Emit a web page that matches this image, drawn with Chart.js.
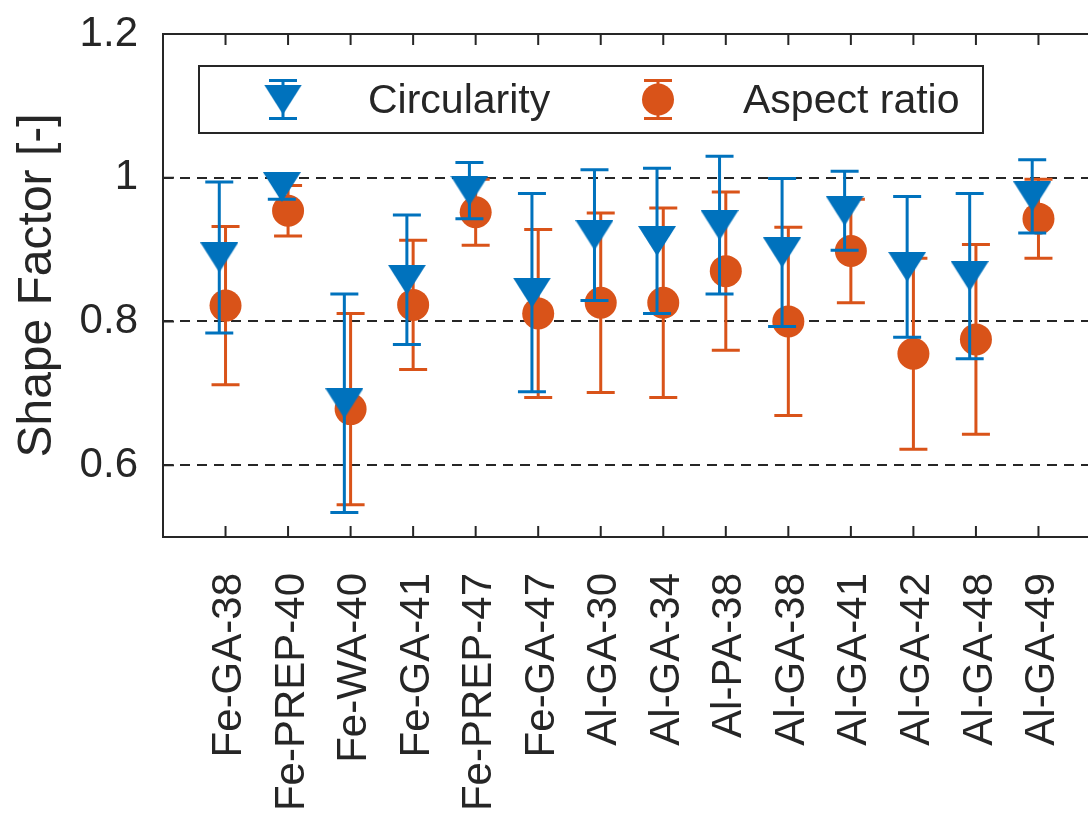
<!DOCTYPE html>
<html>
<head>
<meta charset="utf-8">
<title>Shape Factor</title>
<script src="https://cdn.jsdelivr.net/npm/chart.js@4"></script>
<style>
  html, body { margin: 0; padding: 0; overflow: hidden; background: #fff; }
</style>
</head>
<body>
<canvas id="shapeChart" width="1121" height="816"></canvas>
<script>
// sample names along the x axis
const categories = ['Fe-GA-38', 'Fe-PREP-40', 'Fe-WA-40', 'Fe-GA-41', 'Fe-PREP-47', 'Fe-GA-47',
  'Al-GA-30', 'Al-GA-34', 'Al-PA-38', 'Al-GA-38', 'Al-GA-41', 'Al-GA-42', 'Al-GA-48', 'Al-GA-49'];

// mean values and +/- error
const circularity    = [0.889, 0.987, 0.686, 0.858, 0.982, 0.840, 0.920, 0.912, 0.934, 0.896, 0.954, 0.876, 0.863, 0.974];
const circularityErr = [0.105, 0.017, 0.152, 0.090, 0.039, 0.138, 0.091, 0.101, 0.096, 0.103, 0.055, 0.098, 0.115, 0.051];
const aspectRatio    = [0.822, 0.954, 0.678, 0.823, 0.952, 0.811, 0.826, 0.826, 0.870, 0.800, 0.898, 0.755, 0.775, 0.943];
const aspectErr      = [0.110, 0.035, 0.133, 0.090, 0.046, 0.117, 0.125, 0.132, 0.110, 0.131, 0.072, 0.133, 0.132, 0.055];

const yTicks = [0.6, 0.8, 1, 1.2];

const BLUE = '#0072BD';
const ORANGE = '#D95319';
const INK = '#262626';
const FONT = '"Liberation Sans", Arial, Helvetica, sans-serif';

// MATLAB-ish downward triangle marker
function makeTriangle(w, h, color) {
  const c = document.createElement('canvas');
  c.width = w; c.height = h;
  const g = c.getContext('2d');
  g.fillStyle = color;
  g.beginPath();
  g.moveTo(0, 0); g.lineTo(w, 0); g.lineTo(w / 2, h);
  g.closePath(); g.fill();
  return c;
}
const triangle = makeTriangle(38, 30, BLUE);

const CAP = 14;

function drawErrorBar(ctx, px, top, bot, color) {
  ctx.strokeStyle = color;
  ctx.lineWidth = 3;
  ctx.beginPath();
  ctx.moveTo(px, top); ctx.lineTo(px, bot);
  ctx.moveTo(px - CAP, top); ctx.lineTo(px + CAP, top);
  ctx.moveTo(px - CAP, bot); ctx.lineTo(px + CAP, bot);
  ctx.stroke();
}

// error bars go under each dataset's own markers
const errorBars = {
  id: 'errorBars',
  beforeDatasetDraw(chart, args) {
    const ds = chart.data.datasets[args.index];
    const { x, y } = chart.scales;
    const ctx = chart.ctx;
    ctx.save();
    ds.data.forEach((p, i) => {
      const px = x.getPixelForValue(p.x);
      drawErrorBar(ctx, px, y.getPixelForValue(p.y + ds.errors[i]), y.getPixelForValue(p.y - ds.errors[i]), ds.borderColor);
    });
    ctx.restore();
  }
};

// axes box, inward ticks and the boxed legend
const frame = {
  id: 'frame',
  afterDraw(chart) {
    const { ctx, chartArea: a, scales: { x, y } } = chart;
    ctx.save();
    ctx.strokeStyle = INK;
    ctx.lineWidth = 2;
    ctx.strokeRect(a.left, a.top, a.right - a.left, a.bottom - a.top);
    ctx.beginPath();
    x.ticks.forEach(t => {
      const px = x.getPixelForValue(t.value);
      ctx.moveTo(px, a.bottom); ctx.lineTo(px, a.bottom - 11);
      ctx.moveTo(px, a.top); ctx.lineTo(px, a.top + 11);
    });
    y.ticks.forEach(t => {
      const py = y.getPixelForValue(t.value);
      ctx.moveTo(a.left, py); ctx.lineTo(a.left + 11, py);
      ctx.moveTo(a.right, py); ctx.lineTo(a.right - 11, py);
    });
    ctx.stroke();

    // legend
    const lx = a.left + 36, ly = a.top + 32, lw = 784, lh = 67;
    ctx.fillStyle = '#fff';
    ctx.fillRect(lx, ly, lw, lh);
    ctx.lineWidth = 2;
    ctx.strokeRect(lx, ly, lw, lh);
    const cy = ly + lh / 2;
    const d = chart.data.datasets;

    let mx = lx + 84;
    drawErrorBar(ctx, mx, cy - 19, cy + 19, BLUE);
    ctx.drawImage(triangle, mx - triangle.width / 2, cy - triangle.height / 2);
    mx = lx + 459;
    drawErrorBar(ctx, mx, cy - 19, cy + 19, ORANGE);
    ctx.fillStyle = ORANGE;
    ctx.beginPath(); ctx.arc(mx, cy, 16, 0, Math.PI * 2); ctx.fill();

    ctx.fillStyle = INK;
    ctx.font = '41px ' + FONT;
    ctx.textAlign = 'left';
    ctx.textBaseline = 'middle';
    ctx.fillText(d[0].label, lx + 169, cy + 2);
    ctx.fillText(d[1].label, lx + 544, cy + 2);
    ctx.restore();
  }
};

const X_SHIFT = -0.1;

new Chart(document.getElementById('shapeChart'), {
  type: 'scatter',
  data: {
    datasets: [
      {
        label: 'Circularity',
        data: circularity.map((v, i) => ({ x: i + X_SHIFT, y: v })),
        errors: circularityErr,
        borderColor: BLUE,
        backgroundColor: BLUE,
        pointStyle: triangle,
        pointRadius: 19,
        showLine: false
      },
      {
        label: 'Aspect ratio',
        data: aspectRatio.map((v, i) => ({ x: i, y: v })),
        errors: aspectErr,
        borderColor: ORANGE,
        backgroundColor: ORANGE,
        pointStyle: 'circle',
        pointRadius: 16,
        pointBorderWidth: 0,
        showLine: false
      }
    ]
  },
  options: {
    responsive: false,
    devicePixelRatio: 1,
    animation: false,
    events: [],
    layout: { padding: { top: 34, right: 9, left: 0, bottom: 0 } },
    plugins: { legend: { display: false }, tooltip: { enabled: false } },
    scales: {
      x: {
        type: 'linear',
        min: -1,
        max: 14,
        grid: { display: false },
        border: { display: false },
        afterBuildTicks: s => { s.ticks = categories.map((_, i) => ({ value: i })); },
        afterFit: s => {
          s.height = 279;
          s.paddingLeft = 0; s.paddingRight = 0;
        },
        ticks: {
          autoSkip: false,
          minRotation: 90,
          maxRotation: 90,
          padding: 28,
          labelOffset: 4,
          color: INK,
          font: { family: FONT, size: 42 },
          callback: v => categories[v] ?? ''
        }
      },
      y: {
        min: 0.5,
        max: 1.2,
        afterBuildTicks: s => { s.ticks = yTicks.map(v => ({ value: v })); },
        afterFit: s => {
          s.width = 163;
          s.paddingTop = 0; s.paddingBottom = 0;
        },
        grid: {
          drawTicks: false,
          lineWidth: 2,
          color: ctx => (ctx.tick && ctx.tick.value >= 1.2 ? 'rgba(0,0,0,0)' : INK)
        },
        border: { display: false, dash: [10, 7] },
        ticks: {
          padding: 25,
          color: INK,
          font: { family: FONT, size: 42 },
          callback: v => String(v)
        },
        title: {
          display: true,
          text: 'Shape Factor [-]',
          color: INK,
          font: { family: FONT, size: 48 },
          padding: { top: 9, bottom: 0 }
        }
      }
    }
  },
  plugins: [errorBars, frame]
});
</script>
</body>
</html>
